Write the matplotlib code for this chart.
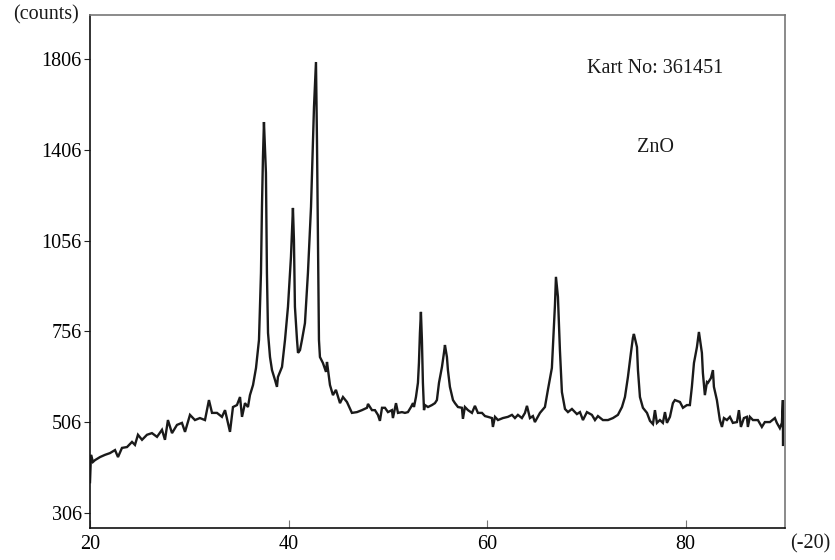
import numpy as np
import matplotlib
matplotlib.use("Agg")
import matplotlib.pyplot as plt

# 2-theta (deg) and intensity (counts)
two_theta = [20.00, 20.10, 20.30, 20.50, 21.01, 21.51, 22.01, 22.52, 22.82, 23.22,
             23.73, 24.23, 24.53, 24.83, 25.24, 25.74, 26.24, 26.75, 27.25, 27.55,
             27.85, 28.26, 28.76, 29.26, 29.57, 30.07, 30.57, 31.07, 31.58, 31.98,
             32.29, 32.79, 33.29, 33.60, 34.10, 34.40, 34.80, 35.11, 35.31, 35.61,
             35.91, 36.11, 36.42, 36.72, 37.02, 37.22, 37.32, 37.42, 37.52, 37.72,
             37.82, 37.93, 38.13, 38.33, 38.63, 38.83, 38.93, 39.34, 39.64, 39.94,
             40.24, 40.44, 40.54, 40.64, 40.85, 40.95, 41.15, 41.35, 41.65, 41.95,
             42.26, 42.46, 42.56, 42.76, 42.86, 42.96, 43.06, 43.16, 43.46, 43.77,
             43.87, 44.17, 44.47, 44.77, 45.18, 45.48, 45.88, 46.38, 46.89, 47.39,
             47.90, 48.00, 48.40, 48.70, 49.00, 49.20, 49.41, 49.71, 50.01, 50.41,
             50.51, 50.82, 51.02, 51.42, 51.72, 52.02, 52.33, 52.53, 52.63, 52.83,
             53.03, 53.13, 53.23, 53.33, 53.43, 53.53, 53.64, 53.74, 54.04, 54.44,
             54.74, 54.94, 55.15, 55.45, 55.65, 55.75, 55.95, 56.05, 56.25, 56.56,
             56.76, 57.06, 57.46, 57.56, 57.76, 58.07, 58.47, 58.77, 59.07, 59.48,
             59.78, 60.08, 60.48, 60.58, 60.79, 61.09, 61.59, 62.09, 62.50, 62.80,
             63.10, 63.50, 63.81, 64.01, 64.31, 64.61, 64.81, 65.32, 65.82, 66.12,
             66.52, 66.63, 66.83, 66.93, 67.13, 67.33, 67.53, 67.84, 68.14, 68.54,
             69.04, 69.35, 69.65, 70.05, 70.55, 70.86, 71.16, 71.66, 72.17, 72.67,
             73.17, 73.58, 73.88, 74.18, 74.48, 74.68, 74.78, 75.09, 75.19, 75.39,
             75.69, 76.10, 76.40, 76.70, 76.90, 77.10, 77.40, 77.70, 77.91, 78.11,
             78.41, 78.71, 78.91, 79.42, 79.72, 80.12, 80.42, 80.62, 80.83, 81.13,
             81.33, 81.63, 81.73, 81.93, 82.14, 82.24, 82.54, 82.74, 82.84, 83.14,
             83.44, 83.65, 83.85, 84.15, 84.45, 84.75, 85.16, 85.36, 85.56, 85.86,
             86.16, 86.26, 86.46, 86.77, 87.27, 87.67, 87.97, 88.48, 88.98, 89.18,
             89.48, 89.69, 89.79, 89.80]
counts = [368, 428, 412, 416, 423, 428, 432, 439, 423, 444,
          446, 458, 451, 475, 463, 475, 479, 470, 487, 463,
          511, 479, 499, 504, 482, 524, 511, 516, 511, 562,
          529, 529, 519, 536, 482, 544, 549, 570, 519, 554,
          544, 575, 602, 649, 730, 943, 1180, 1376, 1523, 1312,
          943, 751, 680, 643, 616, 597, 624, 652, 730, 832,
          998, 1176, 1058, 832, 730, 692, 700, 730, 781, 943,
          1180, 1447, 1588, 1792, 1447, 1058, 730, 680, 663, 638,
          666, 602, 575, 589, 554, 570, 557, 529, 531, 536,
          542, 552, 536, 536, 524, 509, 542, 542, 531, 536,
          516, 554, 529, 531, 529, 531, 544, 554, 544, 570,
          608, 663, 751, 816, 730, 608, 536, 549, 544, 549,
          554, 562, 608, 652, 692, 715, 680, 643, 597, 562,
          554, 544, 542, 514, 544, 536, 529, 547, 529, 529,
          521, 519, 516, 494, 519, 511, 516, 519, 524, 516,
          524, 516, 529, 547, 516, 521, 506, 529, 544, 589,
          649, 715, 838, 930, 864, 700, 583, 539, 531, 539,
          526, 531, 511, 531, 524, 511, 521, 511, 511, 516,
          524, 544, 570, 624, 692, 736, 748, 709, 643, 570,
          542, 529, 509, 501, 536, 504, 511, 504, 531, 504,
          519, 554, 562, 557, 542, 549, 549, 597, 663, 709,
          754, 692, 635, 575, 610, 608, 621, 643, 597, 562,
          511, 494, 516, 511, 519, 504, 506, 536, 494, 516,
          519, 494, 519, 511, 511, 494, 506, 506, 516, 504,
          491, 504, 562, 451]

x_ticks = [20, 40, 60, 80]
y_ticks = [306, 506, 756, 1056, 1406, 1806]

plt.rcParams['font.family'] = ['Liberation Serif', 'DejaVu Serif']
plt.rcParams['font.size'] = 14.5

fig = plt.figure(figsize=(8.35, 5.6), dpi=100)
ax = fig.add_axes([90/835, 32/560, 695/835, 513/560])

ax.plot(two_theta, counts, color='#1a1a1a', lw=1.7, solid_joinstyle='miter')

# intensity axis is on a square-root scale
ax.set_yscale('function', functions=(lambda v: np.sqrt(np.clip(v, 0, None)), np.square))
ax.set_xlim(20, 90)
ax.set_ylim(277.5, 2018)
ax.set_xticks(x_ticks)
ax.set_xticklabels([str(t) for t in x_ticks])
ax.set_yticks(y_ticks)
ax.set_yticklabels([str(t) for t in y_ticks])
ax.minorticks_off()

ax.tick_params(axis='x', direction='in', length=6, width=0.8, color='#777777', pad=5)
ax.tick_params(axis='y', direction='out', length=4, width=0.8, color='#222222', pad=2)

ax.spines['left'].set_color('#111111')
ax.spines['bottom'].set_color('#111111')
ax.spines['left'].set_linewidth(1.2)
ax.spines['bottom'].set_linewidth(1.2)
ax.spines['top'].set_color('#777777')
ax.spines['right'].set_color('#777777')
ax.spines['top'].set_linewidth(1.2)
ax.spines['right'].set_linewidth(1.2)

ax.text(0.715, 0.895, 'Kart No: 361451', transform=ax.transAxes, ha='left', va='center', color='#1a1a1a')
ax.text(0.787, 0.741, 'ZnO', transform=ax.transAxes, ha='left', va='center', color='#1a1a1a')

fig.text(46/835, 1 - 15/560, '(counts)', ha='center', va='center', color='#1a1a1a')
fig.text(810/835, 1 - 544/560, '(-20)', ha='center', va='center', color='#1a1a1a')

fig.savefig('out.png', dpi=100)
